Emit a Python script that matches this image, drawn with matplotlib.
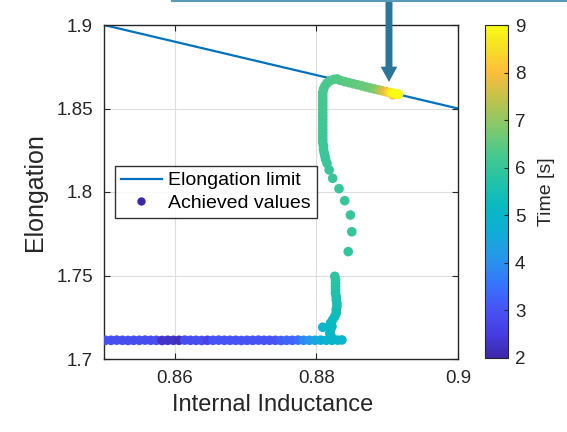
import matplotlib
matplotlib.use("Agg")
import matplotlib.pyplot as plt
import numpy as np
from matplotlib.colors import LinearSegmentedColormap
from matplotlib.lines import Line2D

# ---------------- data ----------------
limit_li = [0.85, 0.90]
limit_kappa = [1.90, 1.85]

bottom_li = [0.8502, 0.8510, 0.8518, 0.8526, 0.8534, 0.8542, 0.8550, 0.8558, 0.8566, 0.8574,
             0.8582, 0.8590, 0.8598, 0.8606, 0.8614, 0.8622, 0.8630, 0.8638, 0.8646, 0.8654,
             0.8662, 0.8670, 0.8678, 0.8686, 0.8694, 0.8702, 0.8710, 0.8718, 0.8726, 0.8734,
             0.8742, 0.8750, 0.8758, 0.8766, 0.8774, 0.8782, 0.8790, 0.8798, 0.8806, 0.8814,
             0.8822, 0.8830, 0.8836]
bottom_kappa = [1.7112, 1.7112, 1.7113, 1.7112, 1.7111, 1.7112, 1.7112, 1.7113, 1.7112, 1.7112,
                1.7111, 1.7112, 1.7112, 1.7112, 1.7113, 1.7112, 1.7112, 1.7111, 1.7112, 1.7112,
                1.7113, 1.7112, 1.7112, 1.7112, 1.7111, 1.7112, 1.7112, 1.7113, 1.7112, 1.7112,
                1.7112, 1.7111, 1.7112, 1.7112, 1.7113, 1.7112, 1.7112, 1.7112, 1.7113, 1.7112,
                1.7112, 1.7113, 1.7114]
bottom_time = [2.9, 2.9, 2.9, 2.9, 2.9, 2.9, 2.9, 2.9, 2.9, 2.9,
               2.3, 2.3, 2.3, 2.2, 2.9, 2.9, 2.9, 2.9, 2.6, 3.0,
               3.0, 3.0, 3.0, 3.0, 3.0, 3.0, 3.0, 3.0, 3.0, 3.0,
               3.0, 3.2, 3.3, 3.3, 3.4, 3.9, 4.1, 4.4, 4.7, 4.9,
               5.0, 5.0, 5.0]

lower_li = [0.8809, 0.8821, 0.8819, 0.8820, 0.8822, 0.8820, 0.8823, 0.8826, 0.8828, 0.8828,
            0.8829, 0.8829, 0.8828, 0.8828, 0.8827, 0.8827, 0.8827, 0.8827, 0.8827, 0.8826]
lower_kappa = [1.7190, 1.7135, 1.7155, 1.7175, 1.7195, 1.7215, 1.7235, 1.7255, 1.7275, 1.7295,
               1.7315, 1.7335, 1.7355, 1.7375, 1.7395, 1.7415, 1.7435, 1.7455, 1.7475, 1.7495]
lower_time = [5.0, 5.0, 5.05, 5.1, 5.15, 5.2, 5.25, 5.3, 5.35, 5.4,
              5.45, 5.5, 5.55, 5.6, 5.65, 5.7, 5.75, 5.8, 5.85, 5.9]

sparse_li = [0.8845, 0.8850, 0.8848, 0.8840, 0.8832, 0.8823, 0.8818, 0.8815]
sparse_kappa = [1.7643, 1.7762, 1.7862, 1.7948, 1.8020, 1.8082, 1.8132, 1.8172]
sparse_time = [5.95, 5.97, 5.98, 6.0, 6.0, 6.02, 6.03, 6.05]

upper_li = [0.8813, 0.8812, 0.8811, 0.8810, 0.8810, 0.8809, 0.8809, 0.8809, 0.8809, 0.8809,
            0.8809, 0.8809, 0.8809, 0.8809, 0.8809, 0.8809, 0.8809, 0.8809, 0.8809, 0.8809,
            0.8809, 0.8810, 0.8812, 0.8815, 0.8819, 0.8824, 0.8829]
upper_kappa = [1.8195, 1.8215, 1.8235, 1.8255, 1.8275, 1.8295, 1.8315, 1.8335, 1.8355, 1.8375,
               1.8395, 1.8415, 1.8435, 1.8455, 1.8475, 1.8495, 1.8515, 1.8535, 1.8555, 1.8575,
               1.8595, 1.8615, 1.8635, 1.8652, 1.8665, 1.8674, 1.8677]
upper_time = [6.05, 6.06, 6.07, 6.08, 6.09, 6.1, 6.11, 6.12, 6.13, 6.14,
              6.15, 6.16, 6.17, 6.18, 6.19, 6.2, 6.21, 6.22, 6.23, 6.24,
              6.25, 6.26, 6.28, 6.3, 6.32, 6.34, 6.35]

top_li = [0.8834, 0.8840, 0.8846, 0.8852, 0.8858, 0.8864, 0.8870, 0.8876, 0.8882, 0.8888,
          0.8893, 0.8898, 0.8902, 0.8908, 0.8906, 0.8909, 0.8912, 0.8914, 0.8916]
top_kappa = [1.8668, 1.8661, 1.8655, 1.8648, 1.8642, 1.8636, 1.8629, 1.8623, 1.8617, 1.8611,
             1.8606, 1.8601, 1.8597, 1.8582, 1.8594, 1.8591, 1.8589, 1.8587, 1.8585]
top_time = [6.4, 6.45, 6.5, 6.5, 6.55, 6.6, 6.6, 6.65, 6.8, 7.1,
            7.5, 7.9, 8.3, 8.0, 8.7, 8.9, 9.0, 9.0, 9.0]

xticks = [0.86, 0.88, 0.90]
xticklabels = ["0.86", "0.88", "0.9"]
yticks = [1.70, 1.75, 1.80, 1.85, 1.90]
yticklabels = ["1.7", "1.75", "1.8", "1.85", "1.9"]
cticks = [2, 3, 4, 5, 6, 7, 8, 9]

# ---------------- style ----------------
parula_anchors = [
    (0.00, (0.2422, 0.1504, 0.6603)),
    (0.07, (0.2726, 0.2393, 0.8859)),
    (0.14, (0.2810, 0.3228, 0.9579)),
    (0.22, (0.2132, 0.4553, 0.9868)),
    (0.30, (0.1540, 0.5902, 0.9218)),
    (0.38, (0.0600, 0.6800, 0.8400)),
    (0.46, (0.0300, 0.7300, 0.7500)),
    (0.54, (0.1500, 0.7650, 0.6500)),
    (0.62, (0.3000, 0.7900, 0.5400)),
    (0.70, (0.5300, 0.7870, 0.4110)),
    (0.78, (0.7600, 0.7600, 0.2900)),
    (0.86, (0.9900, 0.7400, 0.2400)),
    (0.93, (0.9700, 0.8700, 0.1500)),
    (1.00, (0.9769, 0.9839, 0.0805)),
]
parula = LinearSegmentedColormap.from_list("parula", parula_anchors)

plt.rcParams["font.family"] = ["Liberation Sans", "DejaVu Sans"]
dark = (0.15, 0.15, 0.15)

W, H = 567, 432
fig = plt.figure(figsize=(W / 100, H / 100), dpi=100)
ax = fig.add_axes([104 / W, (H - 359) / H, 354 / W, 334 / H])
cax = fig.add_axes([485 / W, (H - 358) / H, 23 / W, 333 / H])

li = np.concatenate([bottom_li, lower_li, sparse_li, upper_li, top_li])
kappa = np.concatenate([bottom_kappa, lower_kappa, sparse_kappa, upper_kappa, top_kappa])
tm = np.concatenate([bottom_time, lower_time, sparse_time, upper_time, top_time])

ax.plot(limit_li, limit_kappa, color=(0, 0.447, 0.741), lw=1.6, zorder=2)
sc = ax.scatter(li, kappa, c=tm, cmap=parula, vmin=2, vmax=9, s=48, linewidths=0, zorder=3)

ax.set_xlim(0.85, 0.90)
ax.set_ylim(1.70, 1.90)
ax.set_xticks(xticks)
ax.set_xticklabels(xticklabels)
ax.set_yticks(yticks)
ax.set_yticklabels(yticklabels)
ax.grid(True, color=(0.87, 0.87, 0.87), lw=0.8)
ax.set_axisbelow(True)
ax.tick_params(direction="in", length=4, width=0.8, colors=dark, labelsize=13.5,
               top=True, right=True, pad=8)
for sp in ax.spines.values():
    sp.set_color(dark)
    sp.set_linewidth(1.0)
ax.set_xlabel("Internal Inductance", fontsize=17, color=dark, labelpad=5, x=0.475)
ax.set_ylabel("Elongation", fontsize=18, color=dark, labelpad=7)

handles = [Line2D([], [], color=(0, 0.447, 0.741), lw=1.6),
           Line2D([], [], ls="none", marker="o", markersize=6,
                  markerfacecolor=parula(0.0), markeredgecolor="none")]
leg = ax.legend(handles, ["Elongation limit", "Achieved values"], loc="upper left",
                bbox_to_anchor=(0.031, 0.578), fontsize=14, frameon=True, fancybox=False,
                edgecolor="black", borderpad=0.3, handlelength=2.1, handletextpad=0.35,
                labelspacing=0.25, borderaxespad=0)
leg.get_frame().set_linewidth(1.0)

cb = fig.colorbar(sc, cax=cax, ticks=cticks)
cb.outline.set_edgecolor(dark)
cb.outline.set_linewidth(0.8)
cax.tick_params(direction="in", length=3, width=0.8, colors=dark, labelsize=13.5, pad=5)
cb.set_label("Time [s]", fontsize=14, color=dark, labelpad=9)

# cropped box edge at top and arrow
fig.add_artist(Line2D([172 / W, 1.0], [1 - 1 / H, 1 - 1 / H], transform=fig.transFigure,
                      color=(0.35, 0.6, 0.73), lw=1.5))
ax.annotate("", xy=(0.89025, 1.8659), xycoords="data",
            xytext=(389 / W, 1.0), textcoords="figure fraction",
            arrowprops=dict(width=5, headwidth=12, headlength=11, shrink=0,
                            color=(0.17, 0.46, 0.6), lw=0),
            annotation_clip=False, zorder=5)

fig.savefig("out.png", dpi=100)
